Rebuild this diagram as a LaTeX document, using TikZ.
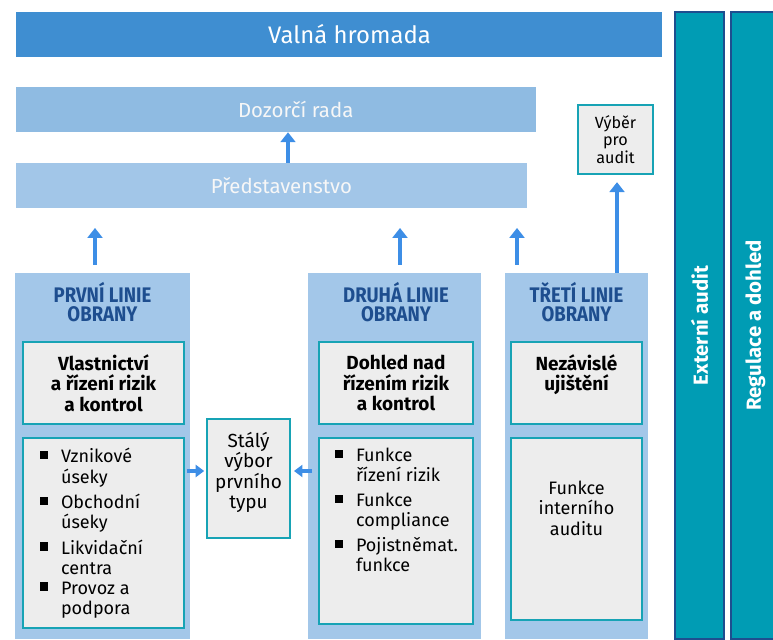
\documentclass[tikz,border=0pt]{standalone}
\usepackage{fontspec}
\setmainfont{Fira Sans}
\newfontface\titlefont[FakeStretch=0.88]{Fira Sans Bold}
\usetikzlibrary{arrows.meta}

\definecolor{gmblue}{HTML}{3F8ED1}
\definecolor{boardblue}{HTML}{8FBBE2}
\definecolor{mgmtblue}{HTML}{A2C6E8}
\definecolor{lineblue}{HTML}{A3C7E9}
\definecolor{darkblue}{HTML}{1E4E8F}
\definecolor{tealline}{HTML}{17A3B5}
\definecolor{boxgray}{HTML}{EDEDED}
\definecolor{arrowblue}{HTML}{3D8EE6}
\definecolor{sideteal}{HTML}{009CB4}

% small black square used as bullet
\newcommand{\sqb}{\rule[0.2em]{0.45em}{0.45em}}

\begin{document}
\begin{tikzpicture}[x=0.025cm, y=-0.025cm,
    band/.style={rectangle, fill=#1, inner sep=0pt, minimum height=1.125cm},
    column/.style={rectangle, fill=lineblue, inner sep=0pt, minimum height=9.15cm},
    inbox/.style={rectangle, draw=tealline, line width=1.6pt, fill=boxgray, inner sep=0pt, align=center},
    sidebar/.style={rectangle, draw=darkblue, line width=1.2pt, fill=sideteal, rotate=90,
        minimum width=15.675cm, minimum height=1.225cm, inner sep=0pt,
        text=white, font=\fontsize{14.5}{16}\selectfont\bfseries},
    coltitle/.style={align=center, text=darkblue, font=\fontsize{15}{13.5}\selectfont\titlefont},
    headtext/.style={align=center, font=\fontsize{13.5}{14.4}\selectfont\bfseries},
    listtext/.style={anchor=north west, inner sep=0pt, font=\fontsize{12.8}{14.2}\selectfont},
    uparr/.style={-{Triangle[width=10.5pt,length=7pt]}, line width=2.8pt, draw=arrowblue},
    sidearr/.style={-{Triangle[width=8.5pt,length=6pt]}, line width=2.6pt, draw=arrowblue}
]
    \useasboundingbox (0,0) rectangle (773,639);

    % vedeni spolecnosti
    \node[band=gmblue, minimum width=16.15cm, text=white,
        font=\fontsize{17}{19}\selectfont] (hromada) at (339,34.5) {\hspace*{15pt}Valná hromada};
    \node[band=boardblue, minimum width=13cm, text=white!94!gray,
        font=\fontsize{14.5}{16}\selectfont] (dozor) at (276,109.5) {\hspace*{28pt}Dozorčí rada};
    \node[band=mgmtblue, minimum width=12.775cm, text=white!94!gray,
        font=\fontsize{14.5}{16}\selectfont] (pred) at (271.5,185.5) {\hspace*{14pt}Představenstvo};
    \node[inbox, minimum width=1.875cm, minimum height=1.725cm,
        font=\fontsize{11.5}{12.2}\selectfont] (vyber) at (615.5,139.5) {Výběr\\pro\\audit};

    % tri linie obrany
    \node[column, minimum width=4.375cm] (lin1) at (102.5,456) {};
    \node[column, minimum width=4.325cm] (lin2) at (394.5,456) {};
    \node[column, minimum width=3.575cm] (lin3) at (576.5,456) {};
    \node[coltitle] (tit1) at (102.5,302) {PRVNÍ LINIE\\OBRANY};
    \node[coltitle] (tit2) at (396,302) {DRUHÁ LINIE\\OBRANY};
    \node[coltitle] (tit3) at (576.5,302) {TŘETÍ LINIE\\OBRANY};

    \node[inbox, headtext, minimum width=4.025cm, minimum height=2.05cm] (role1) at (103.5,383)
        {Vlastnictví\\a řízení rizik\\a kontrol};
    \node[inbox, headtext, minimum width=3.85cm, minimum height=2.05cm] (role2) at (396,383)
        {Dohled nad\\řízením rizik\\a kontrol};
    \node[inbox, headtext, minimum width=3.275cm, minimum height=2.05cm] (role3) at (576.5,383)
        {Nezávislé\\ujištění\\\mbox{}};

    \node[inbox, minimum width=4.025cm, minimum height=4.75cm] (unit1) at (103.5,533) {};
    \node[inbox, minimum width=3.85cm, minimum height=4.65cm] (unit2) at (396,531) {};
    \node[inbox, minimum width=3.275cm, minimum height=4.55cm, text depth=1.05cm,
        font=\fontsize{12.8}{14.4}\selectfont] (unit3) at (576.5,529)
        {Funkce\\interního\\auditu};

    \node[listtext] (list1) at (40,448) {\begin{tabular}{@{}l@{\hspace{9pt}}l@{}}
        \sqb & Vznikové\\ & úseky\\[3.5pt]
        \sqb & Obchodní\\ & úseky\\[3.5pt]
        \sqb & Likvidační\\ & centra\\
        \sqb & Provoz a\\ & podpora
        \end{tabular}};
    \node[listtext] (list2) at (335,447) {\begin{tabular}{@{}l@{\hspace{9pt}}l@{}}
        \sqb & Funkce\\ & řízení rizik\\[3.5pt]
        \sqb & Funkce\\ & compliance\\[3.5pt]
        \sqb & Pojistněmat.\\ & funkce
        \end{tabular}};

    \node[inbox, minimum width=2.075cm, minimum height=2.975cm, text depth=0.4cm,
        font=\fontsize{13.5}{14.4}\selectfont] (vybor) at (248.5,478.5) {Stálý\\výbor\\prvního\\typu};

    % externi subjekty
    \node[sidebar] (extaudit) at (699.5,325.5) {Externí audit};
    \node[sidebar] (regulace) at (755.5,325.5) {Regulace a dohled};

    % sipky
    \coordinate (a0) at (288,0);
    \coordinate (a1) at (95,0);
    \coordinate (a2) at (400,0);
    \coordinate (a3) at (517,0);
    \coordinate (a4) at (617,0);
    \coordinate (h) at (0,471);
    \draw[uparr] (pred.north -| a0) -- (dozor.south -| a0);
    \draw[uparr, shorten <=5.7pt, shorten >=14pt] (lin1.north -| a1) -- (pred.south -| a1);
    \draw[uparr, shorten <=5.7pt, shorten >=14pt] (lin2.north -| a2) -- (pred.south -| a2);
    \draw[uparr, shorten <=5.7pt, shorten >=14pt] (lin3.north -| a3) -- (pred.south -| a3);
    \draw[uparr, shorten >=5pt] (lin3.north -| a4) -- (vyber.south -| a4);
    \draw[sidearr, shorten <=1pt, shorten >=1.2pt] (unit1.east |- h) -- (vybor.west |- h);
    \draw[sidearr, shorten <=4pt, shorten >=2pt] (unit2.west |- h) -- (vybor.east |- h);
\end{tikzpicture}
\end{document}
